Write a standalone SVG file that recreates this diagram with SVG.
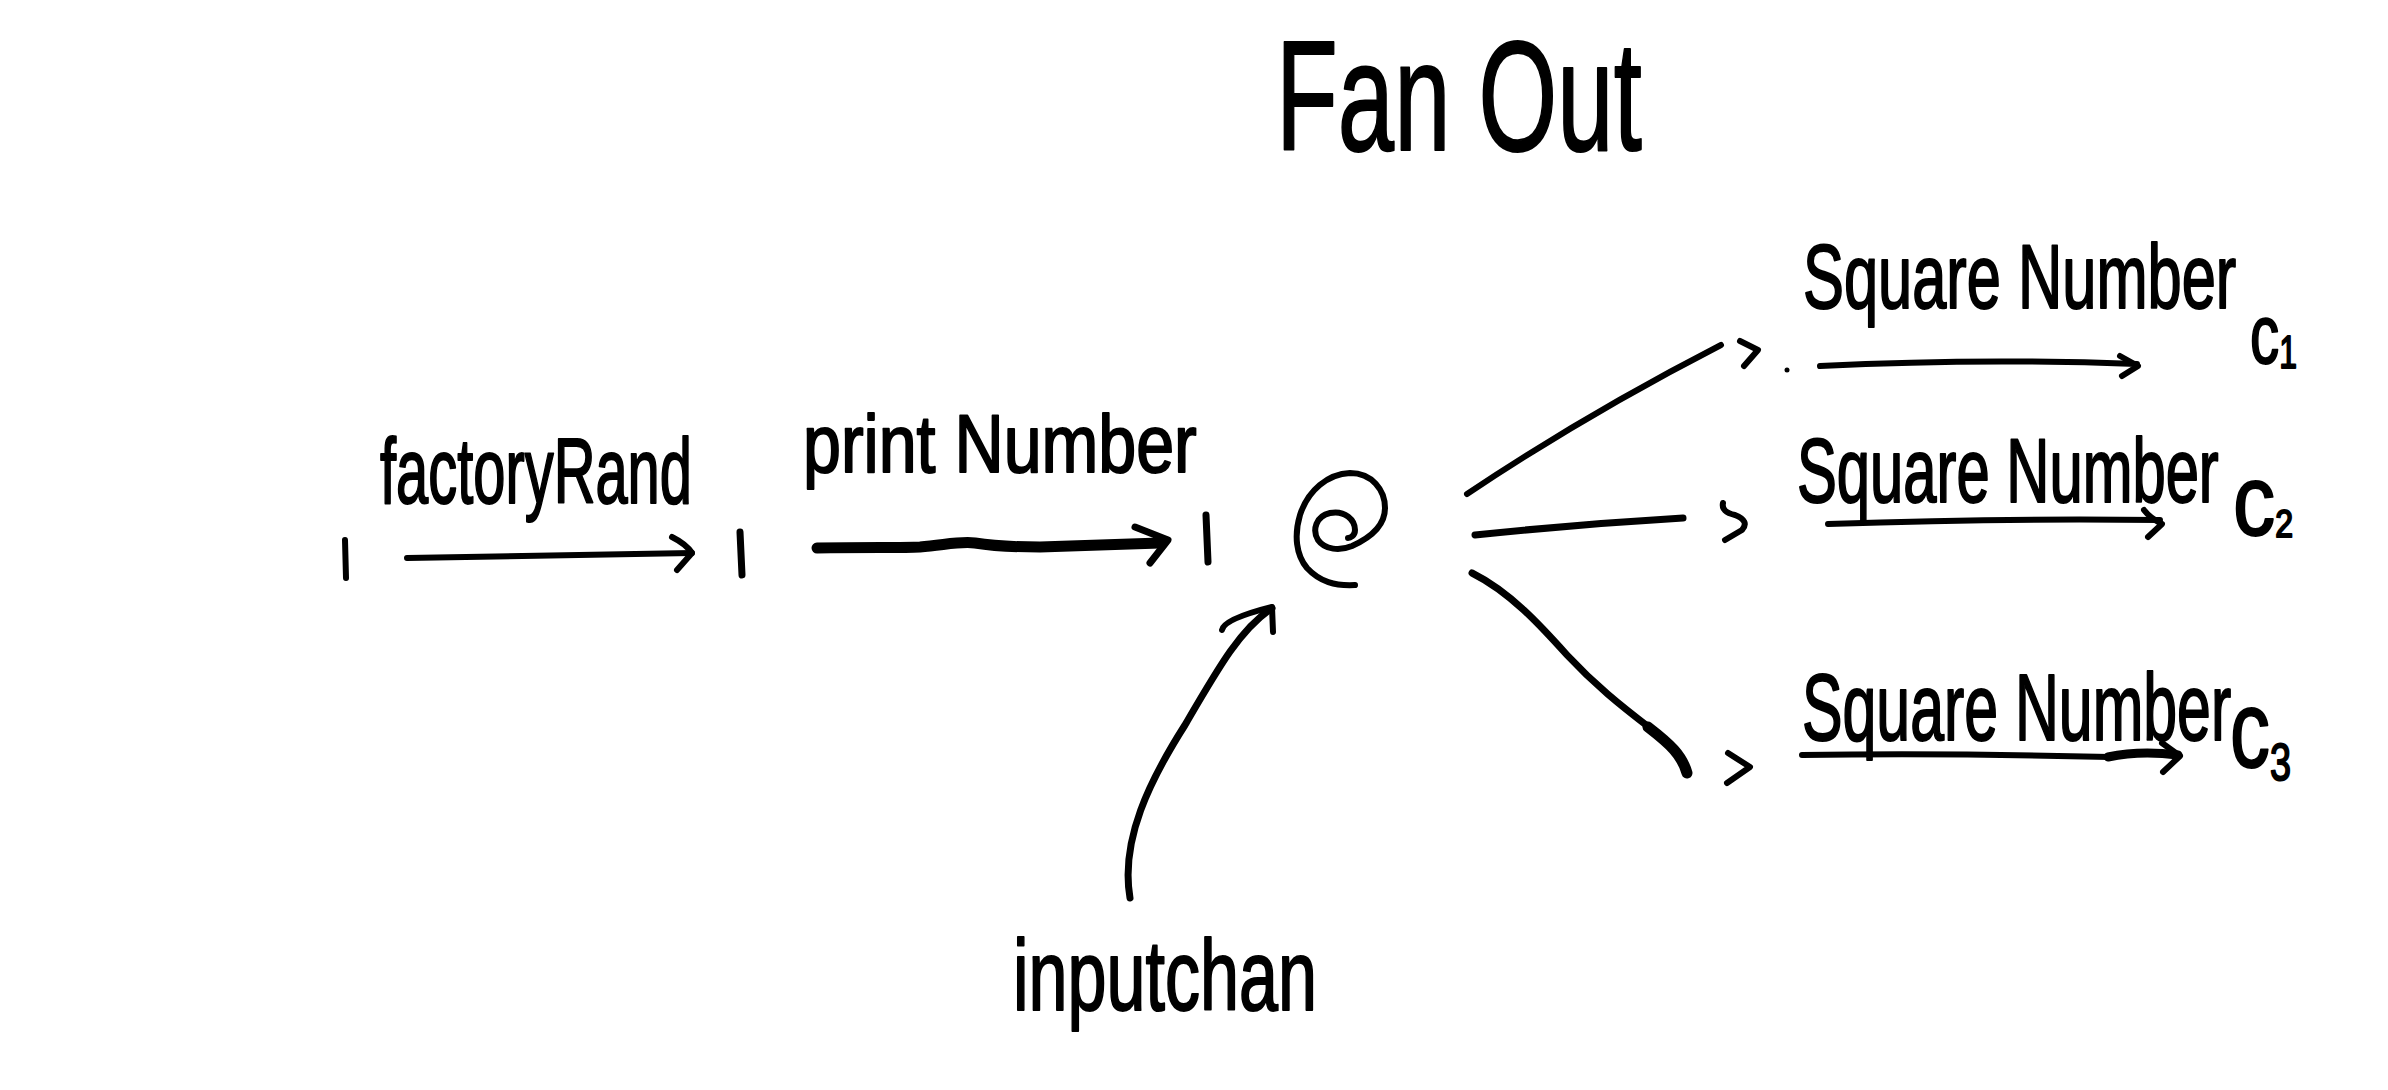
<svg xmlns="http://www.w3.org/2000/svg" width="2388" height="1090" viewBox="0 0 2388 1090">
<style>
.ink{fill:none;stroke:#000;stroke-linecap:round;stroke-linejoin:round}
.w6{stroke-width:6}
.w7{stroke-width:7}
.w9{stroke-width:9}
.w11{stroke-width:11}
.hand{font-family:"Liberation Sans",Arial,sans-serif;fill:#000;stroke:#000;stroke-width:2;stroke-linejoin:round}
</style>
<rect x="0" y="0" width="2388" height="1090" fill="#fff"/>

<g id="title">
<text class="hand" transform="translate(1276,150) scale(0.649,1)" font-size="156">Fan Out</text>
</g>

<g id="node-start">
<path class="ink w6" d="M345,540 L346,578"/>
</g>
<g id="node-mid1">
<path class="ink w7" d="M740,532 L742,575"/>
</g>
<g id="node-mid2">
<path class="ink w7" d="M1206,515 L1208,562"/>
</g>

<g id="node-merge">
<path class="ink w6" d="M1355,585 C1335,586 1320,582 1307,568 C1296,555 1294,535 1300,515 C1308,490 1328,474 1350,473 C1372,473 1385,490 1385,508 C1385,525 1372,537 1352,546 C1340,551 1325,550 1318,540 C1312,530 1316,516 1330,513 C1345,510 1355,520 1355,530 C1355,536 1350,538 1348,538"/>
</g>

<g id="node-c1">
<text class="hand" transform="translate(2250,363) scale(0.695,1)" font-size="84">c<tspan font-size="46" dy="5">1</tspan></text>
</g>
<g id="node-c2">
<text class="hand" transform="translate(2233,535) scale(0.844,1)" font-size="100">c<tspan font-size="38" dy="2">2</tspan></text>
</g>
<g id="node-c3">
<text class="hand" transform="translate(2230,767) scale(0.727,1)" font-size="110">c<tspan font-size="52" dy="13">3</tspan></text>
</g>

<g id="node-inputchan">
<text class="hand" transform="translate(1013,1010) scale(0.701,1)" font-size="100">inputchan</text>
</g>

<g id="labels">
<text class="hand" transform="translate(380,503) scale(0.629,1)" font-size="92">factoryRand</text>
<text class="hand" transform="translate(803,472) scale(0.831,1)" font-size="82">print Number</text>
<text class="hand" transform="translate(1803,308) scale(0.682,1)" font-size="90">Square Number</text>
<text class="hand" transform="translate(1797,502) scale(0.664,1)" font-size="90">Square Number</text>
<text class="hand" transform="translate(1802,740) scale(0.640,1)" font-size="95">Square Number</text>
</g>

<g id="connectors">
<!-- factoryRand -->
<path class="ink w6" d="M407,558 Q550,556 692,553"/>
<path class="ink w6" d="M672,537 Q686,544 692,553 L677,570"/>
<!-- print Number -->
<path class="ink w11" d="M817,548 C870,547 900,548 920,547 C945,545 960,541 975,543 C1000,547 1020,547 1040,547 L1160,543"/>
<path class="ink w7" d="M1135,527 L1168,540 L1150,563"/>
<!-- inputchan -->
<path class="ink w7" d="M1130,898 C1120,840 1150,780 1185,725 C1220,665 1240,630 1272,608"/>
<path class="ink w6" d="M1222,630 Q1224,619 1272,607 L1273,632"/>
<!-- fan out top -->
<path class="ink w6" d="M1467,494 Q1585,415 1721,345"/>
<path class="ink w6" d="M1740,341 L1758,350 L1744,366"/>
<circle cx="1787" cy="370" r="2.5" fill="#000"/>
<!-- fan out middle -->
<path class="ink w7" d="M1475,535 Q1580,524 1683,518"/>
<path class="ink w6" d="M1723,503 Q1721,512 1735,515 Q1750,521 1742,530 L1725,540"/>
<!-- fan out bottom -->
<path class="ink w7" d="M1472,573 C1510,592 1540,625 1567,655 C1595,685 1620,705 1650,728"/>
<path class="ink w11" d="M1648,727 C1670,744 1682,755 1687,773"/>
<path class="ink w6" d="M1728,753 L1750,767 L1727,783"/>
<!-- square number c1 -->
<path class="ink w6" d="M1820,366 Q1980,358 2137,364"/>
<path class="ink w6" d="M2120,356 L2138,366 L2122,376"/>
<!-- square number c2 -->
<path class="ink w6" d="M1828,524 Q2000,518 2160,520"/>
<path class="ink w6" d="M2144,510 Q2150,518 2162,524 L2148,537"/>
<!-- square number c3 -->
<path class="ink w6" d="M1802,755 Q1950,753 2110,757"/>
<path class="ink w9" d="M2108,757 Q2140,750 2178,755"/>
<path class="ink w6" d="M2162,743 L2180,756 L2163,772"/>
</g>
</svg>
